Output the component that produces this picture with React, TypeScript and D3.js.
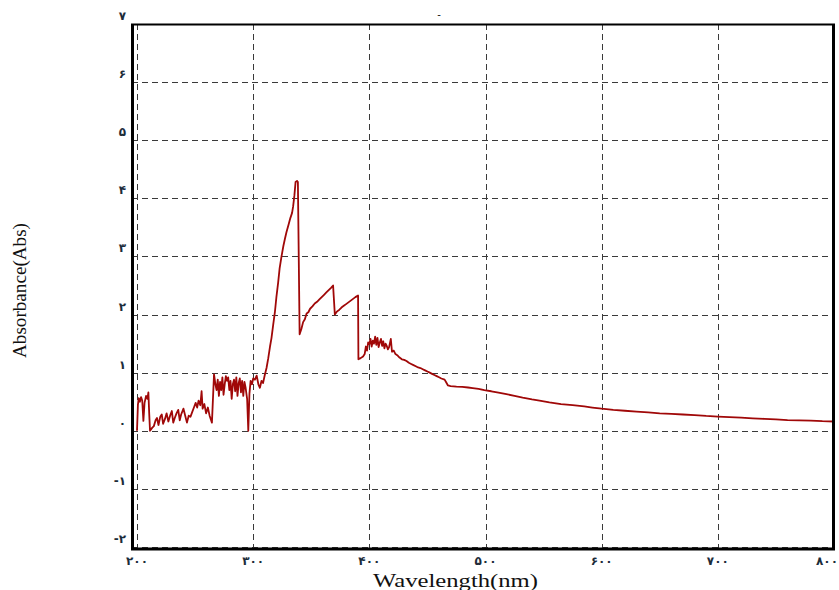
import * as d3 from "d3";
import { useEffect, useRef } from "react";

const width = 839;
const height = 590;

// plot box (pixels) — gridline positions for 200nm / 800nm and -2 / 7 Abs
const plot = { left: 137, right: 834, top: 24, bottom: 547 };

const xTicks = [200, 300, 400, 500, 600, 700, 800];
const xTickLabels = ["۲۰۰", "۳۰۰", "۴۰۰", "۵۰۰", "۶۰۰", "۷۰۰", "۸۰۰"];
const yTicks = [-2, -1, 0, 1, 2, 3, 4, 5, 6, 7];
const yTickLabels = ["-۲", "-۱", "۰", "۱", "۲", "۳", "۴", "۵", "۶", "۷"];

// wavelength (nm)
const wavelength = [
  200, 200.8, 201.5, 202.5, 203.5, 204.5, 205.5, 206.5, 207.8, 209, 209.8, 210.5, 211.2,
  213, 214.5, 216, 217.2, 218.5, 220, 221.3, 222.5, 224, 225.5, 227, 228.5, 230, 231.2,
  232.5, 234, 235.5, 236.8, 238, 240, 241.5, 243, 244.5, 246, 247.5, 249, 250.5, 251.8,
  253, 254.5, 255.6, 256.5, 258, 259.5, 261, 262.5, 264.5, 266.3, 267.5, 268.5, 269.5,
  270.5, 271.5, 272.5, 273.5, 274.5, 275.5, 276.5, 277.5, 278.5, 279.5, 280.5, 281.5,
  282.5, 283.5, 284.5, 285.5, 286.5, 287.5, 288.5, 289.5, 290.5, 291.5, 292.5, 293.5,
  294.8, 295.8, 296.8, 297.8, 299, 300, 301.5, 303, 304.5, 305.8, 307.2, 308.5, 310,
  311.5, 313, 314.5, 315.8, 317.2, 318.7, 320, 321.5, 322.8, 324.4, 326, 327.3, 328.7,
  330.5, 332, 333.5, 334.4, 335.5, 336.5, 337.8, 338.5, 340, 341.5, 343, 344.5, 346,
  347.5, 349, 351, 353, 355, 357, 359, 361, 363, 365, 367, 368.8, 370.3, 372, 374, 376,
  378, 380, 382, 384, 386, 388, 390.3, 390.6, 392.5, 394.6, 396, 397, 398, 399, 400, 401,
  402, 403, 404, 405, 406, 407, 408, 409, 410, 411, 412, 413, 414, 415, 416, 417, 418.5,
  419.5, 421, 422.5, 424, 426, 428, 430, 432, 434, 436, 438, 440, 442, 444, 446, 448,
  450, 452, 454, 456, 458, 460, 462, 464.8, 466, 467.7, 470, 475, 480, 485, 489, 494,
  499, 505, 510, 518, 525, 532, 540, 546.5, 555, 565, 575, 585, 592, 600, 610, 620, 630,
  640, 650, 660, 670, 680, 690, 700, 710, 720, 730, 740, 750, 760, 770, 780, 790, 800,
];

// absorbance at each wavelength above
const absorbance = [
  0.0, 0.45, 0.56, 0.5, 0.58, 0.52, 0.17, 0.48, 0.6, 0.55, 0.66, 0.3, 0.0,
  0.05, 0.08, 0.18, 0.22, 0.1, 0.24, 0.28, 0.12, 0.2, 0.3, 0.16, 0.26, 0.34, 0.14,
  0.22, 0.3, 0.36, 0.18, 0.28, 0.38, 0.26, 0.14, 0.26, 0.24, 0.32, 0.4, 0.48, 0.4,
  0.52, 0.44, 0.68, 0.38, 0.46, 0.3, 0.4, 0.26, 0.14, 0.97, 0.8, 0.7, 0.88,
  0.6, 0.84, 0.7, 0.92, 0.62, 0.8, 0.94, 0.86, 0.92, 0.7, 0.86, 0.55,
  0.8, 0.88, 0.68, 0.92, 0.6, 0.82, 0.9, 0.66, 0.86, 0.6, 0.84, 0.74,
  0.55, 0.0, 0.64, 0.86, 0.8, 0.9, 0.88, 0.95, 0.8, 0.74, 0.86, 0.82, 0.96,
  1.08, 1.25, 1.45, 1.6, 1.82, 2.04, 2.3, 2.55, 2.8, 3.0, 3.18, 3.3, 3.42,
  3.55, 3.66, 3.75, 3.86, 4.05, 4.28, 4.3, 4.28, 1.66, 1.75, 1.87, 1.92, 2.02,
  2.04, 2.1, 2.14, 2.19, 2.22, 2.26, 2.3, 2.34, 2.38, 2.42, 2.46, 2.5, 2.0, 2.05, 2.08, 2.12,
  2.15, 2.18, 2.21, 2.24, 2.27, 2.3, 2.33, 1.23, 1.25, 1.28, 1.32, 1.45, 1.38, 1.52, 1.49, 1.58,
  1.45, 1.55, 1.5, 1.62, 1.48, 1.6, 1.44, 1.52, 1.58, 1.46, 1.54, 1.42, 1.5, 1.46, 1.4, 1.44, 1.58,
  1.36, 1.38, 1.32, 1.3, 1.26, 1.23, 1.22, 1.2, 1.17, 1.15, 1.13, 1.11, 1.09, 1.08, 1.06, 1.04,
  1.02, 1.0, 0.98, 0.96, 0.94, 0.92, 0.9, 0.88, 0.84, 0.78, 0.77, 0.76, 0.755, 0.745, 0.735, 0.72,
  0.7, 0.68, 0.66, 0.63, 0.6, 0.57, 0.54, 0.52, 0.49, 0.46, 0.44, 0.42, 0.4, 0.38, 0.36, 0.345, 0.33,
  0.315, 0.3, 0.29, 0.28, 0.27, 0.255, 0.245, 0.235, 0.225, 0.215, 0.205, 0.195, 0.185, 0.18, 0.175, 0.165, 0.16,
];

export default function App() {
  const svgRef = useRef<SVGSVGElement>(null);

  useEffect(() => {
    const svg = d3.select(svgRef.current);
    svg.selectAll("*").remove();

    const x = d3.scaleLinear().domain([200, 800]).range([plot.left, plot.right]);
    const y = d3.scaleLinear().domain([-2, 7]).range([plot.bottom, plot.top]);

    svg.append("rect").attr("width", width).attr("height", height).attr("fill", "#fff");

    // dashed grid
    const grid = svg.append("g").attr("stroke", "#3a3a3a").attr("stroke-width", 1).attr("stroke-dasharray", "6,4");
    grid
      .selectAll("line.v")
      .data(xTicks)
      .enter()
      .append("line")
      .attr("x1", (d) => Math.round(x(d)) + 0.5)
      .attr("x2", (d) => Math.round(x(d)) + 0.5)
      .attr("y1", plot.top)
      .attr("y2", plot.bottom + 2);
    grid
      .selectAll("line.h")
      .data(yTicks)
      .enter()
      .append("line")
      .attr("x1", 132)
      .attr("x2", plot.right)
      .attr("y1", (d) => Math.round(y(d)) + 0.5)
      .attr("y2", (d) => Math.round(y(d)) + 0.5);

    // trace
    const pts = wavelength.map((w, i) => [w, absorbance[i]] as [number, number]);
    const line = d3
      .line<[number, number]>()
      .x((d) => x(d[0]))
      .y((d) => y(d[1]));
    svg
      .append("path")
      .datum(pts)
      .attr("d", line)
      .attr("fill", "none")
      .attr("stroke", "#a00808")
      .attr("stroke-width", 1.8)
      .attr("stroke-linejoin", "round");

    // frame
    const frame = svg.append("g").attr("stroke", "#000").attr("fill", "none");
    frame.append("line").attr("x1", 131).attr("x2", 835).attr("y1", 24.5).attr("y2", 24.5).attr("stroke-width", 2);
    frame.append("line").attr("x1", 132.5).attr("x2", 132.5).attr("y1", 24).attr("y2", 550).attr("stroke-width", 3);
    frame.append("line").attr("x1", 833.5).attr("x2", 833.5).attr("y1", 24).attr("y2", 550).attr("stroke-width", 3);
    frame.append("line").attr("x1", 131).attr("x2", 835).attr("y1", 549).attr("y2", 549).attr("stroke-width", 3);

    // tick labels
    svg
      .append("g")
      .selectAll("text")
      .data(yTicks)
      .enter()
      .append("text")
      .attr("x", 126)
      .attr("y", (d) => y(d) - 4)
      .attr("text-anchor", "end")
      .style("font-family", "DejaVu Sans")
      .style("font-size", "12px")
      .style("font-weight", "bold")
      .style("fill", "#1c2c3a")
      .text((d, i) => yTickLabels[i]);

    svg
      .append("g")
      .selectAll("text")
      .data(xTicks)
      .enter()
      .append("text")
      .attr("x", (d) => (d === 800 ? 838 : x(d)))
      .attr("y", 565)
      .attr("text-anchor", (d) => (d === 800 ? "end" : "middle"))
      .style("font-family", "DejaVu Sans")
      .style("font-size", "12px")
      .style("font-weight", "bold")
      .style("letter-spacing", "4px")
      .style("fill", "#1c2c3a")
      .text((d, i) => xTickLabels[i]);

    // axis titles
    svg
      .append("text")
      .attr("x", 373)
      .attr("y", 587)
      .attr("textLength", 165)
      .attr("lengthAdjust", "spacingAndGlyphs")
      .style("font-family", "Liberation Serif")
      .style("font-size", "18px")
      .style("fill", "#111")
      .text("Wavelength(nm)");

    svg
      .append("text")
      .attr("transform", "translate(26,358) rotate(-90)")
      .attr("textLength", 135)
      .attr("lengthAdjust", "spacingAndGlyphs")
      .style("font-family", "Liberation Serif")
      .style("font-size", "18px")
      .style("fill", "#111")
      .text("Absorbance(Abs)");

    svg
      .append("text")
      .attr("x", 439)
      .attr("y", 18)
      .attr("text-anchor", "middle")
      .style("font-family", "DejaVu Sans")
      .style("font-size", "10px")
      .style("fill", "#111")
      .text("-");
  }, []);

  return (
    <svg
      ref={svgRef}
      width={width}
      height={height}
      style={{ position: "absolute", left: 0, top: 0, display: "block" }}
    ></svg>
  );
}
